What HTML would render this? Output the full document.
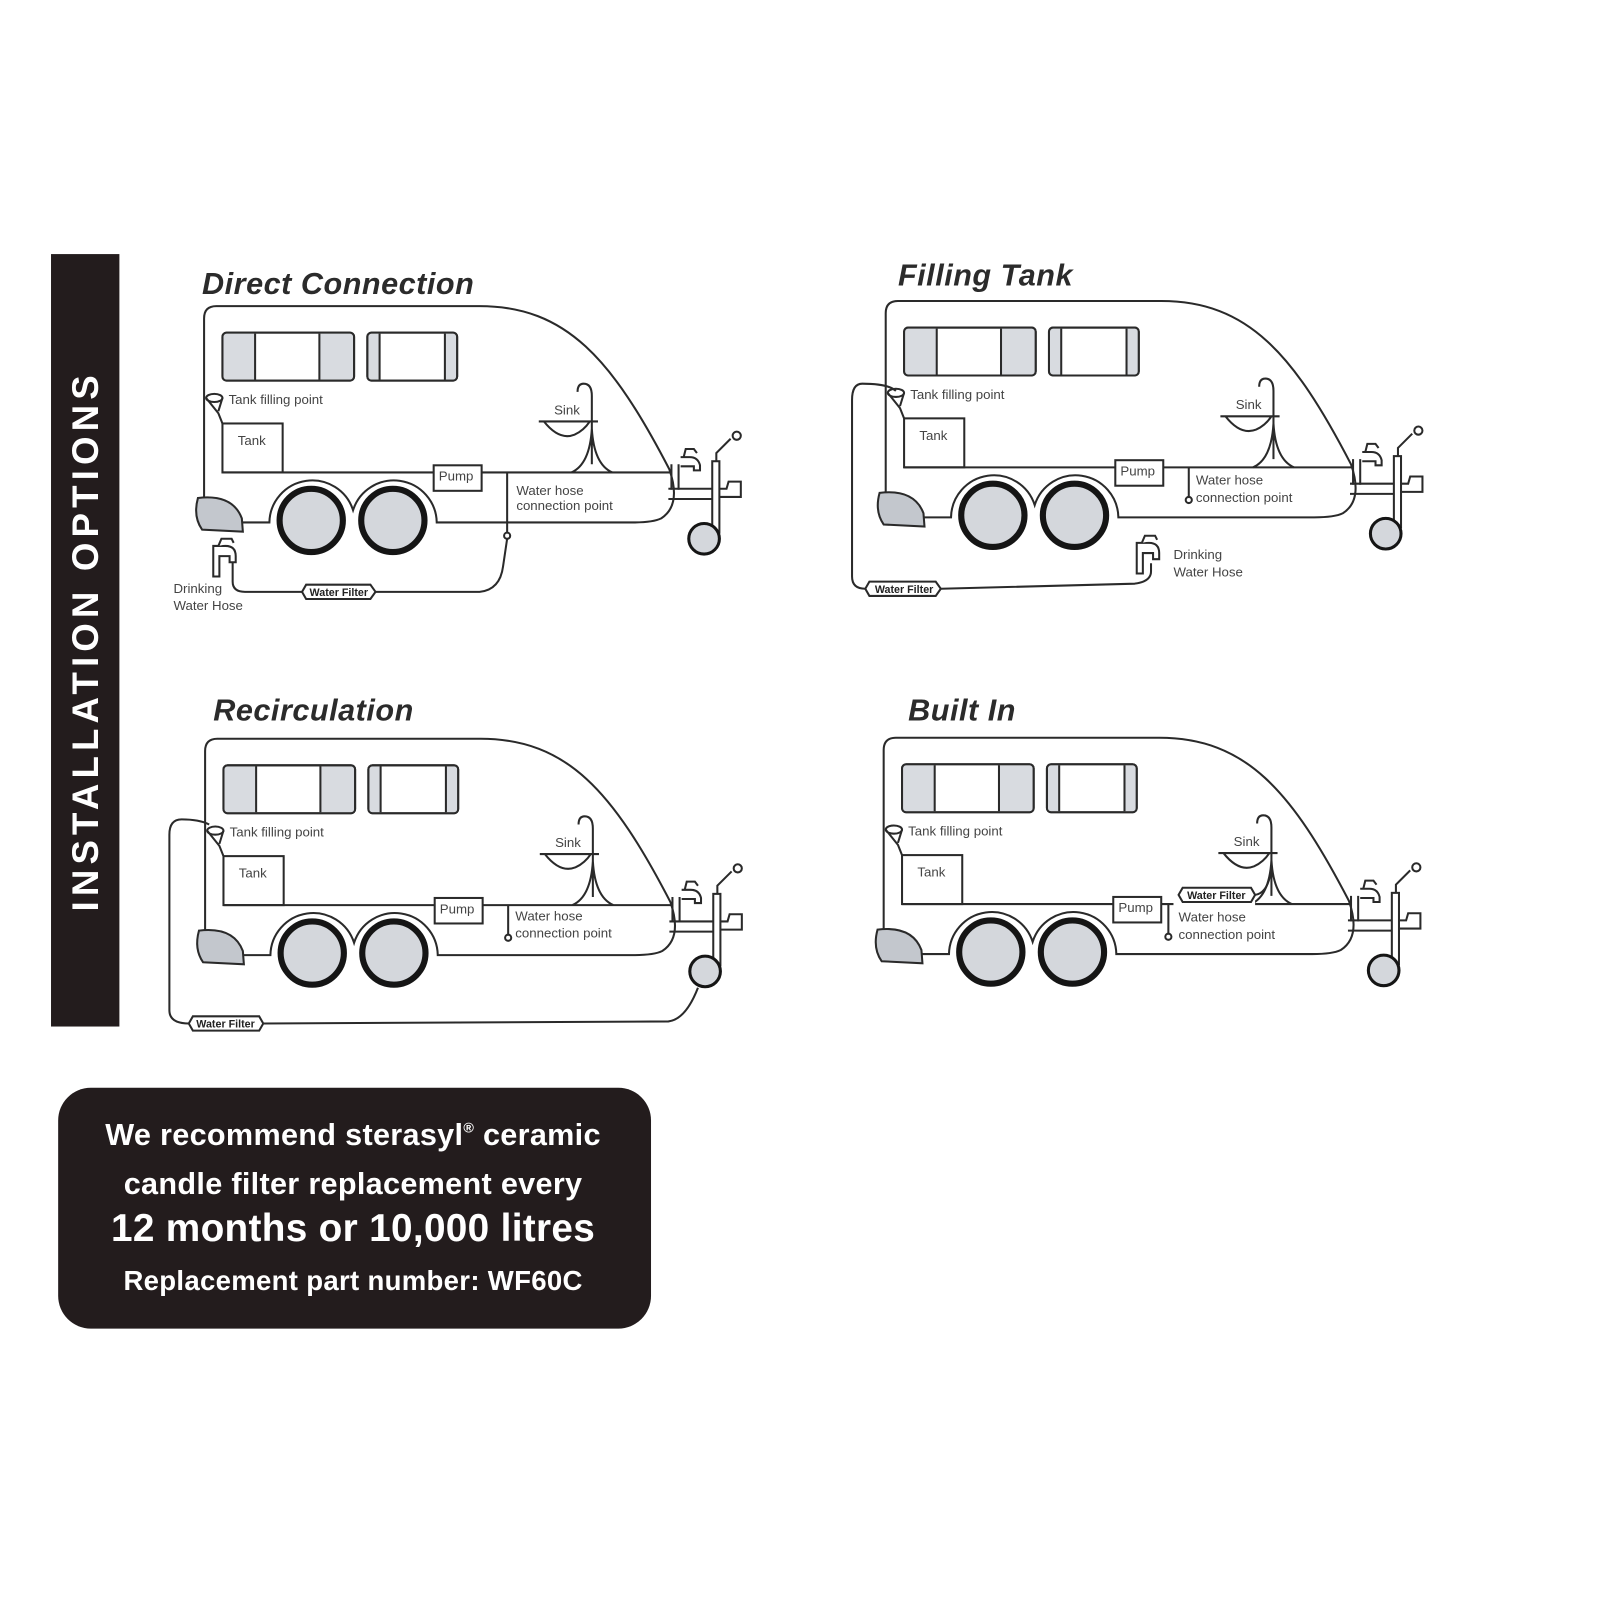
<!DOCTYPE html>
<html><head><meta charset="utf-8"><style>
html,body{margin:0;padding:0;background:#fff;}
svg{display:block}
text{font-family:"Liberation Sans",sans-serif;}
</style></head><body>
<svg width="1600" height="1600" viewBox="0 0 1568 1568" xmlns="http://www.w3.org/2000/svg">
<defs>
<g id="van" fill="none" stroke="#2a2a2a" stroke-width="2">
  <path d="M200,490 L200,312 Q200,300 212,300 L470,300 C555,300 600,352 656,460 Q668,495 648,508 Q640,512 620,512 L428,512 A42,42 0 0 0 346,500 A42,42 0 0 0 264,512 L237,512"/>
  <path d="M218,463 L657,463"/>
  <circle cx="305" cy="510" r="31" fill="#d4d7dc" stroke="#151515" stroke-width="6"/>
  <circle cx="385" cy="510" r="31" fill="#d4d7dc" stroke="#151515" stroke-width="6"/>
  <path d="M194,488 Q228,484 237,508 L238,521 L198,519 Q189,506 194,488Z" fill="#c3c7cd"/>
  <rect x="218" y="326" width="129" height="47" rx="4" fill="#fff"/>
  <rect x="219" y="327" width="31" height="45" fill="#d8dbe0" stroke="none"/>
  <rect x="313" y="327" width="33" height="45" fill="#d8dbe0" stroke="none"/>
  <path d="M250,327 L250,372 M313,327 L313,372"/>
  <rect x="218" y="326" width="129" height="47" rx="4"/>
  <rect x="360" y="326" width="88" height="47" rx="4" fill="#fff"/>
  <rect x="361" y="327" width="11" height="45" fill="#d8dbe0" stroke="none"/>
  <rect x="436" y="327" width="11" height="45" fill="#d8dbe0" stroke="none"/>
  <path d="M372,327 L372,372 M436,327 L436,372"/>
  <rect x="360" y="326" width="88" height="47" rx="4"/>
  <rect x="218" y="415" width="59" height="48"/>
  <path d="M202,390 L214,405 L218,415 M218,390 L214,403"/>
  <ellipse cx="210" cy="390" rx="8" ry="4"/>
  <rect x="425" y="456" width="47" height="25" fill="#fff"/>
  <path d="M528,413 L586,413 M533,413 Q548,432 563,426 Q572,422 578,413"/>
  <path d="M580,455 L580,388 Q580,376 572,376 Q566,376 566,384 M580,420 Q578,455 560,463 M580,420 Q582,455 600,463"/>
  <path d="M658,455 L658,480 M665,455 L665,480"/>
  <path d="M655,479 L700,479 M655,489 L700,489 M704,479 L712,479 L714,472 L726,472 L726,487 L704,487"/>
  <rect x="698" y="452" width="7" height="70" fill="#fff"/>
  <path d="M702,452 L702,444 L716,430"/>
  <circle cx="722" cy="427" r="4"/>
  <circle cx="690" cy="528" r="15" fill="#d4d7dc" stroke="#151515" stroke-width="3"/>
  <path d="M667,448 L676,448 Q684,448 686,456 L686,461 L680,461 L680,457 L667,457 M670,448 L672,440 L680,440 L683,444"/>
</g>
<g id="labels" font-size="13" fill="#444">
  <text x="224" y="396">Tank filling point</text>
  <text x="233" y="436">Tank</text>
  <text x="543" y="406">Sink</text>
  <text x="430" y="471">Pump</text>
</g>
<g id="tap" fill="#fff" stroke="#2a2a2a" stroke-width="2">
  <path d="M0,10 L12,10 Q22,10 22,20 L22,26 L16,26 L16,20 L6,20 L6,40 L0,40Z"/>
  <path d="M5,10 L8,3 L18,3 L20,7"/>
</g>
</defs>

<rect x="50" y="249" width="67" height="757" fill="#231c1d"/>
<text transform="translate(96,628) rotate(-90)" text-anchor="middle" font-size="36" font-weight="bold" letter-spacing="5" fill="#fff">INSTALLATION OPTIONS</text>

<g font-style="italic" font-weight="bold" font-size="30" letter-spacing="0.5" fill="#2b2b2b">
<text x="198" y="288">Direct Connection</text>
<text x="880" y="280">Filling Tank</text>
<text x="209" y="706">Recirculation</text>
<text x="890" y="706">Built In</text>
</g>

<!-- Direct Connection -->
<g>
<use href="#van"/><use href="#labels"/>
<g fill="none" stroke="#2a2a2a" stroke-width="2">
<path d="M497,463 L497,522"/><circle cx="497" cy="525" r="3" fill="#fff"/>
<path d="M228,548 L228,570 Q228,580 240,580 L296,580 M367,580 L470,580 Q490,578 493,555 L497,528"/>
</g>
<use href="#tap" x="209" y="525"/>
<path d="M296,580 L300,573 L363,573 L368,580 L363,587 L300,587Z" fill="#fff" stroke="#2a2a2a" stroke-width="2"/>
<text x="332" y="584" text-anchor="middle" font-size="10.5" font-weight="bold" fill="#222">Water Filter</text>
<g font-size="13" fill="#444">
<text x="506" y="485">Water hose</text><text x="506" y="500">connection point</text>
<text x="170" y="581">Drinking</text><text x="170" y="598">Water Hose</text>
</g>
</g>

<!-- Filling Tank -->
<g transform="translate(668,-5)">
<use href="#van"/><use href="#labels"/>
<g fill="none" stroke="#2a2a2a" stroke-width="2">
<path d="M497,463 L497,492"/><circle cx="497" cy="495" r="3" fill="#fff"/>
</g>
<g font-size="13" fill="#444">
<text x="504" y="480">Water hose</text><text x="504" y="497">connection point</text>
<text x="482" y="553">Drinking</text><text x="482" y="570">Water Hose</text>
</g>
</g>
<g fill="none" stroke="#2a2a2a" stroke-width="2">
<path d="M878,383 Q870,376 845,376 Q835,376 835,392 L835,565 Q835,577 848,577 M922,577 L1112,572 Q1128,570 1128,560 L1128,552"/>
</g>
<use href="#tap" x="1114" y="522"/>
<path d="M848,577 L852,570 L917,570 L922,577 L917,584 L852,584Z" fill="#fff" stroke="#2a2a2a" stroke-width="2"/>
<text x="886" y="581" text-anchor="middle" font-size="10.5" font-weight="bold" fill="#222">Water Filter</text>

<!-- Recirculation -->
<g transform="translate(1,424)">
<use href="#van"/><use href="#labels"/>
<g fill="none" stroke="#2a2a2a" stroke-width="2">
<path d="M497,463 L497,492"/><circle cx="497" cy="495" r="3" fill="#fff"/>
</g>
<g font-size="13" fill="#444">
<text x="504" y="478">Water hose</text><text x="504" y="495">connection point</text>
</g>
</g>
<g fill="none" stroke="#2a2a2a" stroke-width="2">
<path d="M205,808 Q195,803 178,803 Q166,803 166,818 L166,990 Q166,1003 185,1003 M258,1003 L655,1001 Q672,999 684,968"/>
</g>
<path d="M185,1003 L189,996 L254,996 L258,1003 L254,1010 L189,1010Z" fill="#fff" stroke="#2a2a2a" stroke-width="2"/>
<text x="221" y="1007" text-anchor="middle" font-size="10.5" font-weight="bold" fill="#222">Water Filter</text>

<!-- Built In -->
<g transform="translate(666,423)">
<use href="#van"/><use href="#labels"/>
<g fill="none" stroke="#2a2a2a" stroke-width="2">
<path d="M479,463 L479,492"/><circle cx="479" cy="495" r="3" fill="#fff"/>
<rect x="484" y="447" width="80" height="24" fill="#fff" stroke="none"/>
<path d="M489,454 L493,447 L560,447 L564,454 L560,461 L493,461Z" fill="#fff"/>
<path d="M564,454 Q578,452 580,425"/>
</g>
<text x="526" y="458" text-anchor="middle" font-size="10.5" font-weight="bold" fill="#222">Water Filter</text>
<g font-size="13" fill="#444">
<text x="489" y="480">Water hose</text><text x="489" y="497">connection point</text>
</g>
</g>

<!-- Recommendation box -->
<rect x="57" y="1066" width="581" height="236" rx="32" fill="#231c1d"/>
<g fill="#fff" font-weight="bold" text-anchor="middle">
<text x="346" y="1122" font-size="30" letter-spacing="0.3">We recommend sterasyl<tspan font-size="14" dy="-12">®</tspan><tspan dy="12"> ceramic</tspan></text>
<text x="346" y="1170" font-size="30" letter-spacing="0.3">candle filter replacement every</text>
<text x="346" y="1216" font-size="38" letter-spacing="0.3">12 months or 10,000 litres</text>
<text x="346" y="1264" font-size="27" letter-spacing="0.3">Replacement part number: WF60C</text>
</g>
</svg>
</body></html>
